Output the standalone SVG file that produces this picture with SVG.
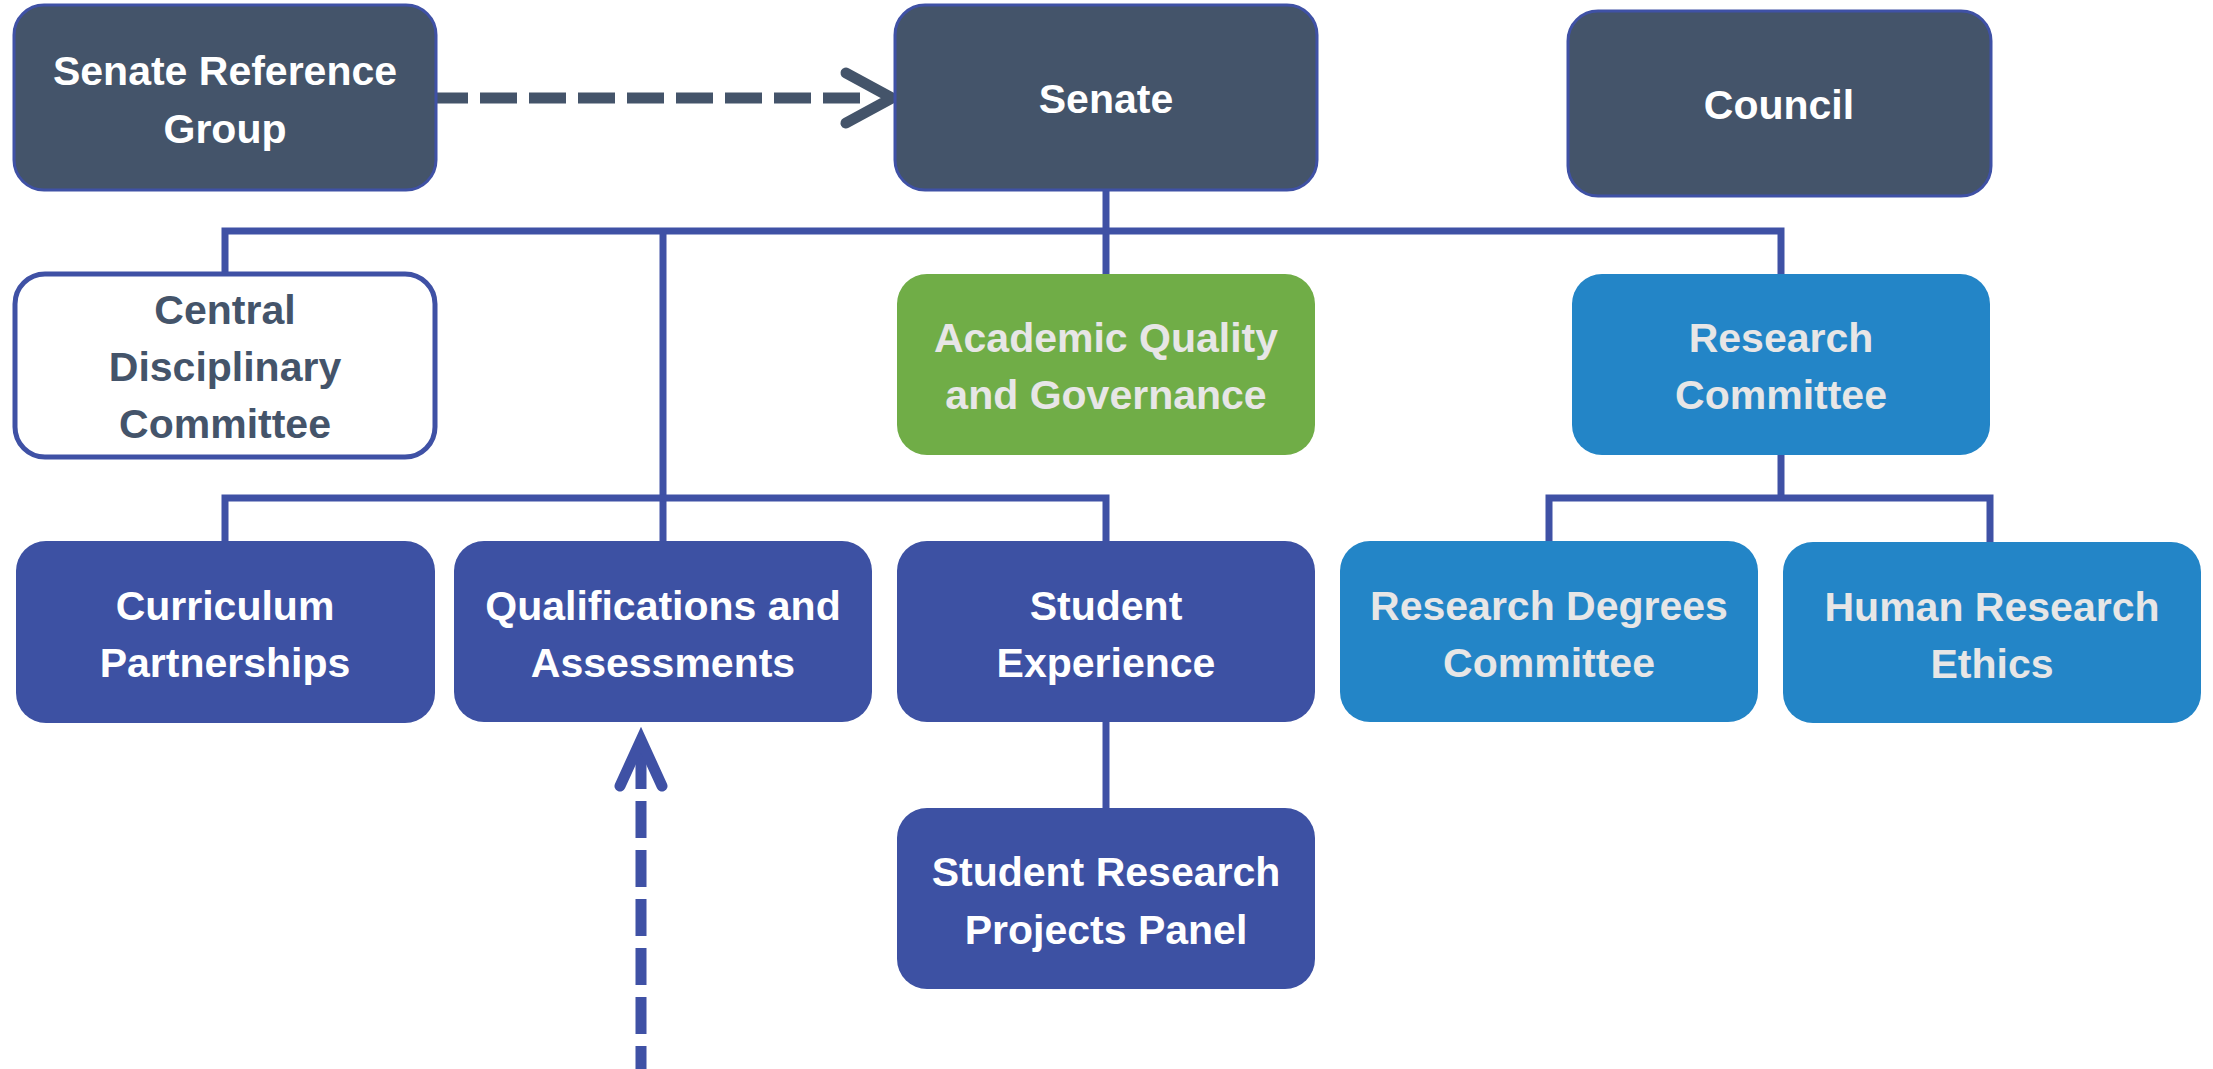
<svg xmlns="http://www.w3.org/2000/svg" width="2213" height="1069" viewBox="0 0 2213 1069">
<style>
  text { font-family: "Liberation Sans", Arial, sans-serif; font-weight: bold; font-size: 41px; text-anchor: middle; }
  .slate { fill: #44546A; stroke: #3F51A5; stroke-width: 3; }
  .outline { fill: #FFFFFF; stroke: #3F51A5; stroke-width: 5; }
  .green { fill: #70AD47; }
  .blue { fill: #2385C7; }
  .indigo { fill: #3D51A3; }
  .tw { fill: #FFFFFF; }
  .tl { fill: #E7E6E6; }
  .ts { fill: #44546A; }
  .conn { fill: none; stroke: #3F51A5; stroke-width: 7; }
  .dash { fill: none; stroke-width: 11; stroke-dasharray: 37 12; }
  .head { fill: none; stroke-width: 11; stroke-linecap: round; stroke-linejoin: miter; }
</style>
<rect width="2213" height="1069" fill="#FFFFFF"/>
<g id="connectors">
  <path class="conn" d="M1106,190 V274"/>
  <path class="conn" d="M225,273 V231 H1781 V274"/>
  <path class="conn" d="M663,231 V541"/>
  <path class="conn" d="M225,541 V498 H1106 V541"/>
  <path class="conn" d="M1781,455 V498"/>
  <path class="conn" d="M1549,541 V498 H1990 V542"/>
  <path class="conn" d="M1106,722 V808"/>
  <path class="dash" stroke="#44546A" d="M431,98 H866"/>
  <path class="head" stroke="#44546A" d="M846,73 L892,98 L846,123"/>
  <path class="dash" stroke="#3F51A5" d="M641,752 V1069"/>
  <path class="head" stroke="#3F51A5" d="M620,786 L641,740 L662,786"/>
</g>
<g id="node-senate-reference-group">
  <rect class="slate" x="14" y="5" width="422" height="185" rx="30"/>
  <text class="tw" x="225" y="85">Senate Reference</text>
  <text class="tw" x="225" y="143">Group</text>
</g>
<g id="node-senate">
  <rect class="slate" x="895" y="5" width="422" height="185" rx="30"/>
  <text class="tw" x="1106" y="113">Senate</text>
</g>
<g id="node-council">
  <rect class="slate" x="1568" y="11" width="423" height="185" rx="30"/>
  <text class="tw" x="1779" y="119">Council</text>
</g>
<g id="node-central-disciplinary">
  <rect class="outline" x="15" y="274" width="420" height="183" rx="30"/>
  <text class="ts" x="225" y="324">Central</text>
  <text class="ts" x="225" y="381">Disciplinary</text>
  <text class="ts" x="225" y="438">Committee</text>
</g>
<g id="node-academic-quality">
  <rect class="green" x="897" y="274" width="418" height="181" rx="30"/>
  <text class="tl" x="1106" y="352">Academic Quality</text>
  <text class="tl" x="1106" y="409">and Governance</text>
</g>
<g id="node-research-committee">
  <rect class="blue" x="1572" y="274" width="418" height="181" rx="30"/>
  <text class="tl" x="1781" y="352">Research</text>
  <text class="tl" x="1781" y="409">Committee</text>
</g>
<g id="node-curriculum">
  <rect class="indigo" x="16" y="541" width="419" height="182" rx="30"/>
  <text class="tw" x="225" y="620">Curriculum</text>
  <text class="tw" x="225" y="677">Partnerships</text>
</g>
<g id="node-qualifications">
  <rect class="indigo" x="454" y="541" width="418" height="181" rx="30"/>
  <text class="tw" x="663" y="620">Qualifications and</text>
  <text class="tw" x="663" y="677">Assessments</text>
</g>
<g id="node-student-experience">
  <rect class="indigo" x="897" y="541" width="418" height="181" rx="30"/>
  <text class="tw" x="1106" y="620">Student</text>
  <text class="tw" x="1106" y="677">Experience</text>
</g>
<g id="node-research-degrees">
  <rect class="blue" x="1340" y="541" width="418" height="181" rx="30"/>
  <text class="tl" x="1549" y="620">Research Degrees</text>
  <text class="tl" x="1549" y="677">Committee</text>
</g>
<g id="node-human-research-ethics">
  <rect class="blue" x="1783" y="542" width="418" height="181" rx="30"/>
  <text class="tl" x="1992" y="621">Human Research</text>
  <text class="tl" x="1992" y="678">Ethics</text>
</g>
<g id="node-student-research-projects">
  <rect class="indigo" x="897" y="808" width="418" height="181" rx="30"/>
  <text class="tw" x="1106" y="886">Student Research</text>
  <text class="tw" x="1106" y="944">Projects Panel</text>
</g>
</svg>
